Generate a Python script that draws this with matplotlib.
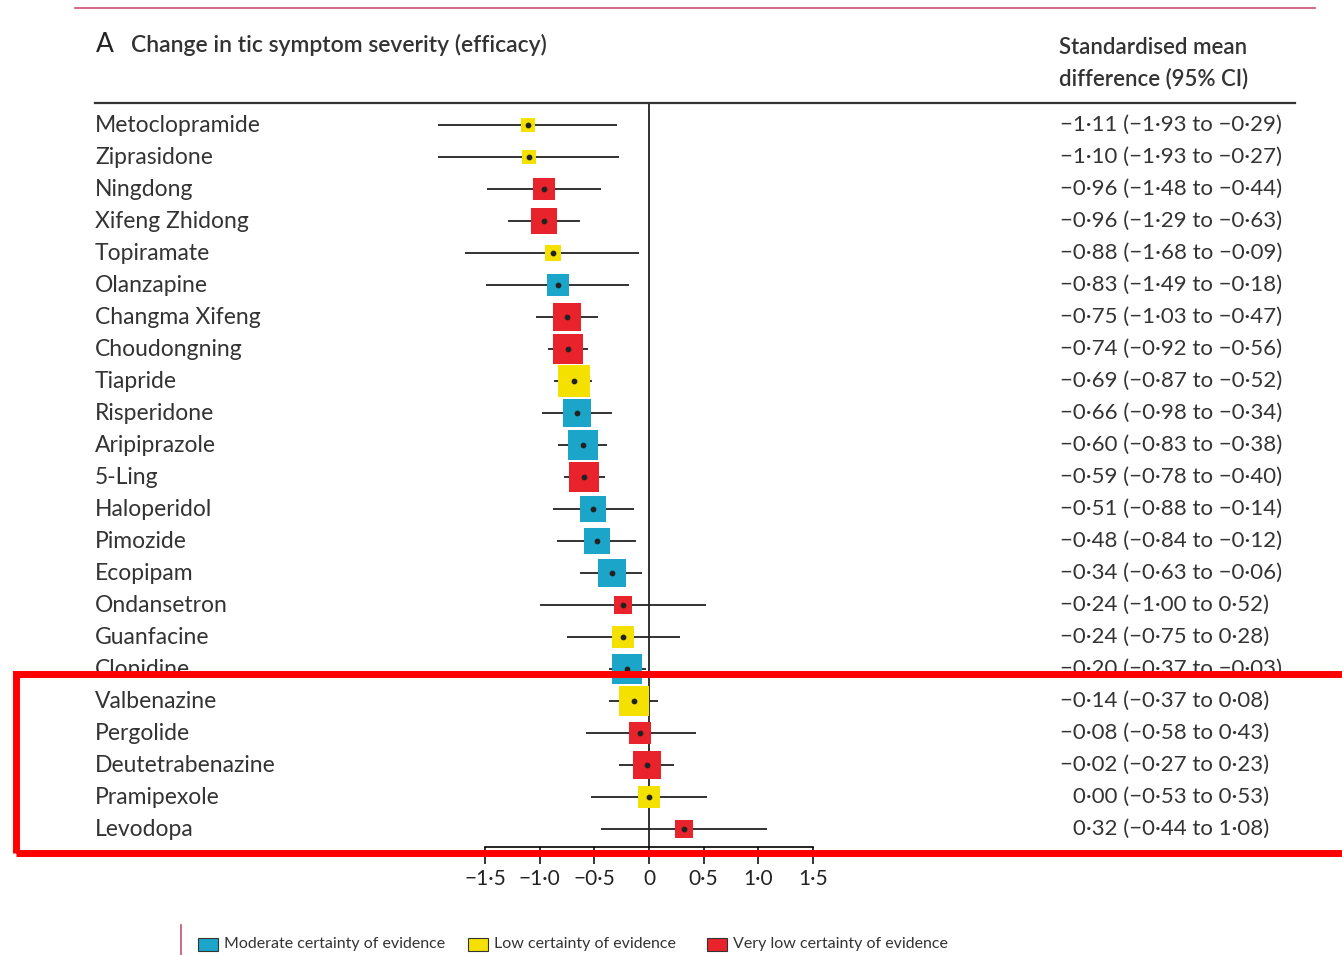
import matplotlib
matplotlib.use("Agg")
import matplotlib.pyplot as plt
from matplotlib import transforms
from matplotlib.patches import Rectangle

plt.rcParams['font.family'] = ['Lato', 'DejaVu Sans']

# Network meta-analysis results, one row per treatment
treatments = ["Metoclopramide", "Ziprasidone", "Ningdong", "Xifeng Zhidong", "Topiramate",
              "Olanzapine", "Changma Xifeng", "Choudongning", "Tiapride", "Risperidone",
              "Aripiprazole", "5-Ling", "Haloperidol", "Pimozide", "Ecopipam",
              "Ondansetron", "Guanfacine", "Clonidine", "Valbenazine", "Pergolide",
              "Deutetrabenazine", "Pramipexole", "Levodopa"]
smd = [-1.11, -1.10, -0.96, -0.96, -0.88, -0.83, -0.75, -0.74, -0.69, -0.66, -0.60, -0.59,
       -0.51, -0.48, -0.34, -0.24, -0.24, -0.20, -0.14, -0.08, -0.02, 0.00, 0.32]
ci_low = [-1.93, -1.93, -1.48, -1.29, -1.68, -1.49, -1.03, -0.92, -0.87, -0.98, -0.83, -0.78,
          -0.88, -0.84, -0.63, -1.00, -0.75, -0.37, -0.37, -0.58, -0.27, -0.53, -0.44]
ci_high = [-0.29, -0.27, -0.44, -0.63, -0.09, -0.18, -0.47, -0.56, -0.52, -0.34, -0.38, -0.40,
           -0.14, -0.12, -0.06, 0.52, 0.28, -0.03, 0.08, 0.43, 0.23, 0.53, 1.08]
# certainty of evidence: M = moderate, L = low, V = very low
certainty = ["L", "L", "V", "V", "L", "M", "V", "V", "L", "M", "M", "V",
             "M", "M", "M", "V", "L", "M", "L", "V", "V", "L", "V"]
# relative weight of each estimate (square side in px)
weight = [14, 14, 22, 26, 16, 22, 28, 30, 32, 28, 30, 30,
          26, 26, 28, 18, 22, 30, 30, 22, 28, 22, 18]

COLORS = {"M": "#1ba6c9", "L": "#f5e100", "V": "#e8232b"}
LEGEND = [("M", "Moderate certainty of evidence"),
          ("L", "Low certainty of evidence"),
          ("V", "Very low certainty of evidence")]
xticks = [-1.5, -1.0, -0.5, 0, 0.5, 1.0, 1.5]

W, H = 1342, 955


def fmt(v, nd=2):
    s = f"{abs(v):.{nd}f}".replace(".", "\u00b7")
    return ("\u2212" + s) if v < 0 else s


def fx(px):
    return px / W


def fy(py):
    return 1 - py / H


fig = plt.figure(figsize=(W / 100, H / 100), dpi=100)

# forest axes: x from -1.5..1.5, rows spaced 32 px starting 125 px from top
top_px, bot_px = 103, 847
ax = fig.add_axes([fx(485), fy(bot_px), fx(813) - fx(485), (bot_px - top_px) / H])
n = len(treatments)
ax.set_xlim(-1.5, 1.5)
ax.set_ylim((bot_px - 125) / 32, -(125 - top_px) / 32)
for s in ["top", "right", "left"]:
    ax.spines[s].set_visible(False)
ax.spines["bottom"].set_bounds(-1.5, 1.5)
ax.spines["bottom"].set_linewidth(1.2)
ax.set_yticks([])
ax.set_xticks(xticks)
ax.set_xticklabels([fmt(t, 1) if t != 0 else "0" for t in xticks], fontsize=15, color="#222222")
ax.tick_params(axis="x", direction="out", length=12, width=1.1, pad=4)
ax.patch.set_alpha(0)

ax.axvline(0, color="#222222", lw=1.3, zorder=1)
rows = list(range(n))
ax.hlines(rows, ci_low, ci_high, color="#222222", lw=1.3, zorder=2, clip_on=False)
ax.scatter(smd, rows, marker="s", s=[(w * 0.72) ** 2 for w in weight],
           c=[COLORS[c] for c in certainty], linewidths=0, zorder=3, clip_on=False)
ax.scatter(smd, rows, marker="o", s=10, c="#222222", zorder=4, clip_on=False)

# labels on the left and estimates on the right
trans = transforms.blended_transform_factory(fig.transFigure, ax.transData)
for i, name in enumerate(treatments):
    ax.text(fx(95), i, name, transform=trans, ha="left", va="center",
            fontsize=16.5, color="#333333")
    x0 = fx(1060) if smd[i] < 0 else fx(1073)
    ax.text(x0, i, f"{fmt(smd[i])} ({fmt(ci_low[i])} to {fmt(ci_high[i])})",
            transform=trans, ha="left", va="center", fontsize=16, color="#333333")

# header
fig.text(fx(96), fy(44), "A", fontsize=19, color="#222222", va="center")
fig.text(fx(131), fy(45), "Change in tic symptom severity (efficacy)", fontsize=16.5,
         fontweight="semibold", color="#333333", va="center")
fig.text(fx(1059), fy(47), "Standardised mean", fontsize=16, fontweight="semibold",
         color="#333333", va="center")
fig.text(fx(1059), fy(79), "difference (95% CI)", fontsize=16, fontweight="semibold",
         color="#333333", va="center")
fig.add_artist(plt.Line2D([fx(95), fx(1295)], [fy(top_px), fy(top_px)],
                          color="#333333", lw=1.6))
fig.add_artist(plt.Line2D([fx(75), fx(1315)], [fy(8), fy(8)], color="#c8506a", lw=1.2))

# legend
fig.add_artist(plt.Line2D([fx(181), fx(181)], [fy(925), fy(955)], color="#c8506a", lw=1.2))
for (key, label), xp in zip(LEGEND, [198, 468, 707]):
    fig.add_artist(Rectangle((fx(xp), fy(951)), fx(20), 13 / H, transform=fig.transFigure,
                             facecolor=COLORS[key], edgecolor="#333333", lw=0.8))
    fig.text(fx(xp + 26), fy(944), label, fontsize=11.5, color="#333333", va="center")

# highlighted rows
fig.add_artist(Rectangle((fx(16), fy(853)), fx(1400), (853 - 674) / H,
                         transform=fig.transFigure, fill=False, edgecolor="#ff0000",
                         lw=5, zorder=10))

fig.savefig("out.png", dpi=100)
